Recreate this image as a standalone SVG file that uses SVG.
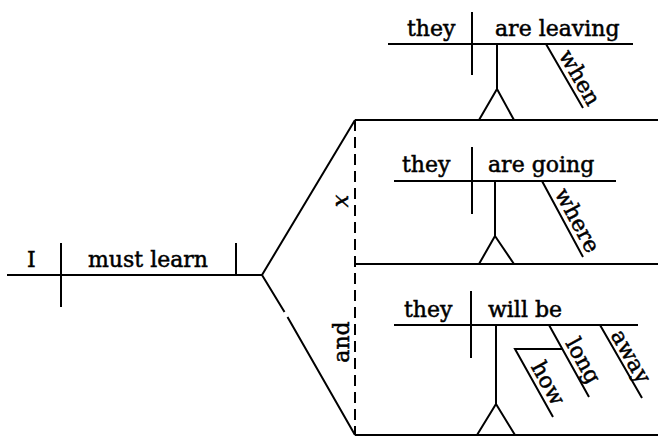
<svg xmlns="http://www.w3.org/2000/svg" width="658" height="437" viewBox="0 0 658 437">
<style>
  .ln { stroke: #000; stroke-width: 2; fill: none; stroke-linecap: butt; }
  .dash { stroke: #000; stroke-width: 2; fill: none; stroke-dasharray: 11 6; }
  text { font-family: "DejaVu Serif", "Liberation Serif", serif; font-size: 22px; fill: #000; stroke: #000; stroke-width: 0.5; }
  .sl { text-anchor: middle; }
</style>
<rect width="658" height="437" fill="#fff"/>

<g id="main-clause">
  <path class="ln" d="M7 275 H262 M61 243 V307 M236 243 V275"/>
  <text x="27" y="267" stroke-width="1.2">I</text>
  <text x="88" y="267">must learn</text>
</g>

<g id="connectors">
  <path class="ln" d="M262 275 L355 120 M262 275 L284.5 312 M287.5 317 L355 435"/>
  <path class="dash" d="M355 120 V435"/>
  <text class="sl" font-style="italic" transform="translate(348,201) rotate(-90)">x</text>
  <text class="sl" transform="translate(349,342) rotate(-90)">and</text>
</g>

<g id="clause-leaving">
  <path class="ln" d="M355 120 H658 M388 44 H633 M472 12 V75 M497 44 V89 L479 120 M497 89 L514 120 M546 44 L583 108"/>
  <text x="407" y="36">they</text>
  <text x="495" y="36">are leaving</text>
  <text class="sl" transform="translate(573.3,81.3) rotate(60)">when</text>
</g>

<g id="clause-going">
  <path class="ln" d="M355 264 H658 M394 181 H616 M472 147 V214 M495 181 V236 L479 264 M495 236 L514 264 M542 181 L583 257"/>
  <text x="402" y="172">they</text>
  <text x="488" y="172">are going</text>
  <text class="sl" transform="translate(570.9,223.9) rotate(61.6)">where</text>
</g>

<g id="clause-will-be">
  <path class="ln" d="M355 435 H658 M394 325 H638 M471 291 V358 M496 325 V404 L477 435 M496 404 L515 435 M549 325 L589 397 M600 325 L642 398 M562 349 H515 L553 417"/>
  <text x="404" y="317">they</text>
  <text x="488" y="317">will be</text>
  <text class="sl" transform="translate(576.7,364.2) rotate(60.9)">long</text>
  <text class="sl" font-size="21" transform="translate(624.5,360) rotate(60.1)">away</text>
  <text class="sl" transform="translate(541.7,386.7) rotate(60.8)">how</text>
</g>
</svg>
